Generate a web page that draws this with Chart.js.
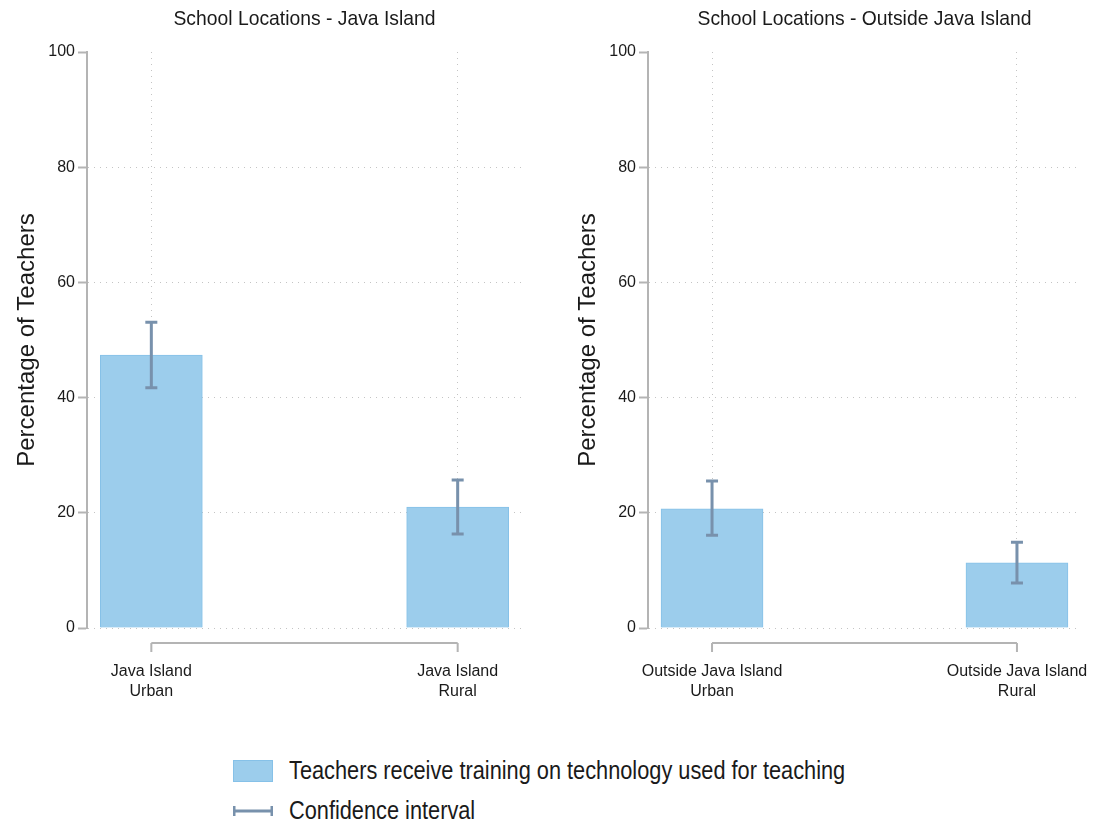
<!DOCTYPE html>
<html>
<head>
<meta charset="utf-8">
<script src="https://cdn.jsdelivr.net/npm/chart.js@4.4.1/dist/chart.umd.min.js"></script>
<style>
  body { margin:0; background:#fff; width:1094px; height:823px; position:relative; overflow:hidden;
         font-family:'Liberation Sans',Arial,sans-serif; color:#1a1a1a; }
  canvas { position:absolute; top:0; }
  #chart-java { left:0; }
  #chart-outside { left:561px; }
  .key { position:absolute; left:233px; display:flex; align-items:center; font-size:25px; white-space:nowrap; }
  .key .sw { width:38px; height:20px; background:#9ccdec; border:1px solid #86c1e8; margin-right:16px; }
  .key svg { margin-right:16px; }
  .key span { display:inline-block; transform:scaleX(0.87); transform-origin:left center; }
</style>
</head>
<body>
<canvas id="chart-java" width="547" height="720"></canvas>
<canvas id="chart-outside" width="533" height="720"></canvas>

<div class="key" style="top:756px"><div class="sw"></div><span>Teachers receive training on technology used for teaching</span></div>
<div class="key" style="top:796px">
  <svg width="40" height="14"><path d="M1 2V12M1 7H39M39 2V12" stroke="#7891ac" stroke-width="3" fill="none"/></svg>
  <span>Confidence interval</span>
</div>

<script>
const Y_TICKS = [0, 20, 40, 60, 80, 100]

const JAVA_TITLE  = 'School Locations - Java Island'
const JAVA_LABELS = [['Java Island', 'Urban'], ['Java Island', 'Rural']]
const JAVA_PCT    = [47.4, 21.0]
const JAVA_CI_LO  = [41.7, 16.3]
const JAVA_CI_HI  = [53.1, 25.7]

const OUT_TITLE  = 'School Locations - Outside Java Island'
const OUT_LABELS = [['Outside Java Island', 'Urban'], ['Outside Java Island', 'Rural']]
const OUT_PCT    = [20.7, 11.3]
const OUT_CI_LO  = [16.1, 7.8]
const OUT_CI_HI  = [25.5, 14.9]

const FONT = "'Liberation Sans',Arial,sans-serif"
const BAR_FILL = '#9ccdec', BAR_EDGE = '#86c1e8', CI_COLOR = '#7891ac', AXIS = '#b4b4b4', GRID = '#c4c4c4'

// panel title, x-axis rule between categories, and CI whiskers
const panelExtras = {
  id: 'panelExtras',
  afterDatasetsDraw(chart, args, opts) {
    const { ctx, chartArea: a, scales: { x, y } } = chart
    ctx.save()

    // condensed title
    ctx.fillStyle = '#1a1a1a'
    ctx.font = `21px ${FONT}`
    ctx.textAlign = 'center'
    ctx.textBaseline = 'middle'
    ctx.save()
    ctx.translate((a.left + a.right) / 2, 19)
    ctx.scale(0.92, 1)
    ctx.fillText(opts.title, 0, 0)
    ctx.restore()

    const ay = a.bottom + 15
    const x0 = x.getPixelForValue(0), x1 = x.getPixelForValue(opts.lo.length - 1)
    ctx.strokeStyle = AXIS
    ctx.lineWidth = 2
    ctx.beginPath()
    ctx.moveTo(x0, ay); ctx.lineTo(x1, ay)
    opts.lo.forEach((_, i) => {
      const px = x.getPixelForValue(i)
      ctx.moveTo(px, ay); ctx.lineTo(px, ay + 9)
    })
    ctx.stroke()

    ctx.strokeStyle = CI_COLOR
    ctx.lineWidth = 3
    opts.lo.forEach((lo, i) => {
      const px = x.getPixelForValue(i)
      const yl = y.getPixelForValue(lo), yh = y.getPixelForValue(opts.hi[i])
      ctx.beginPath()
      ctx.moveTo(px, yl); ctx.lineTo(px, yh)
      ctx.moveTo(px - 6, yl); ctx.lineTo(px + 6, yl)
      ctx.moveTo(px - 6, yh); ctx.lineTo(px + 6, yh)
      ctx.stroke()
    })
    ctx.restore()
  }
}

function drawPanel(id, title, labels, pct, lo, hi, padRight) {
  new Chart(document.getElementById(id), {
    type: 'bar',
    data: {
      datasets: [{
        data: pct.map((v, i) => ({ x: i, y: v })),
        backgroundColor: BAR_FILL, borderColor: BAR_EDGE, borderWidth: 1,
        barThickness: 102,
      }],
    },
    options: {
      responsive: false, animation: false, devicePixelRatio: 1,
      layout: { padding: { top: 52, right: padRight, left: 0, bottom: 0 } },
      plugins: {
        legend: { display: false }, tooltip: { enabled: false },
        panelExtras: { title, lo, hi },
      },
      scales: {
        x: {
          type: 'linear', min: -0.21, max: 1.21, offset: false,
          afterBuildTicks: s => { s.ticks = labels.map((_, i) => ({ value: i })) },
          // fixed height; long labels may hang past the plot edge
          afterFit: s => { s.height = 92; s.paddingLeft = 0; s.paddingRight = 0 },
          ticks: { autoSkip: false, maxRotation: 0, padding: 34, color: '#1a1a1a',
                   font: { family: FONT, size: 16, lineHeight: 1.25 },
                   callback: (v, i) => labels[i] },
          grid: { offset: false, drawTicks: false, color: GRID },
          border: { display: false, dash: [1, 5] },
        },
        y: {
          min: 0, max: 100,
          afterBuildTicks: s => { s.ticks = Y_TICKS.map(v => ({ value: v })) },
          afterFit: s => { s.width = 87 },
          ticks: { padding: 3, color: '#1a1a1a', font: { family: FONT, size: 16 } },
          grid: { color: c => c.tick && c.tick.value === 100 ? 'rgba(0,0,0,0)' : GRID,
                  tickLength: 9, tickColor: AXIS, tickWidth: 2, tickBorderDash: [] },
          border: { color: AXIS, width: 2, dash: [1, 5] },
          title: { display: true, text: 'Percentage of Teachers', color: '#1a1a1a',
                   padding: { top: 13, bottom: 4 },
                   font: { family: FONT, size: 24 } },
        },
      },
    },
    plugins: [panelExtras],
  })
}

drawPanel('chart-java', JAVA_TITLE, JAVA_LABELS, JAVA_PCT, JAVA_CI_LO, JAVA_CI_HI, 25)
drawPanel('chart-outside', OUT_TITLE, OUT_LABELS, OUT_PCT, OUT_CI_LO, OUT_CI_HI, 13)
</script>
</body>
</html>
